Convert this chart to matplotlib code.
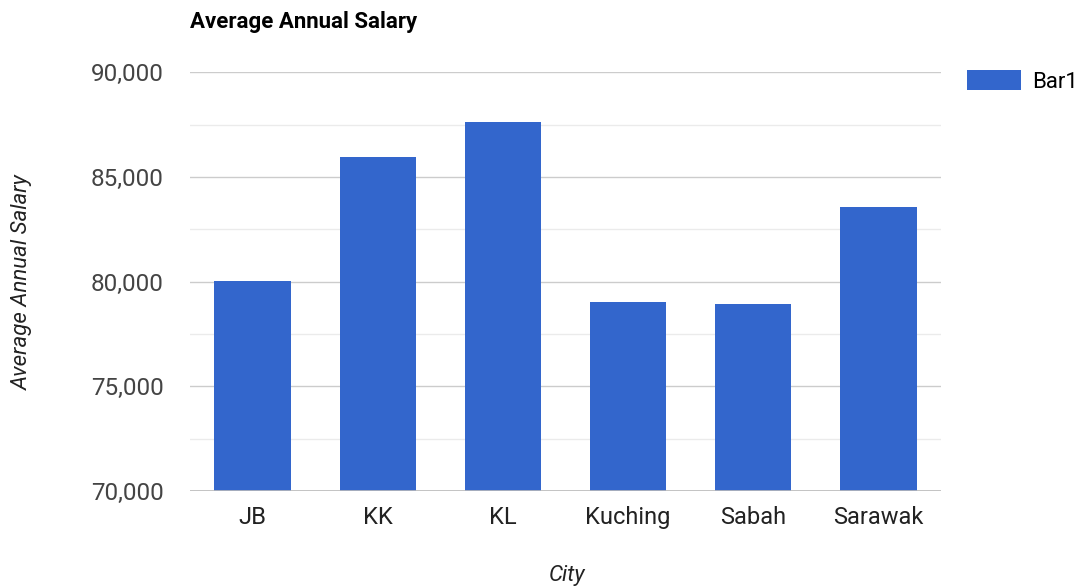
import numpy as np
import matplotlib.pyplot as plt
from matplotlib.ticker import FuncFormatter, MultipleLocator

cities = ["JB", "KK", "KL", "Kuching", "Sabah", "Sarawak"]
salary = [80020, 85930, 87610, 79010, 78930, 83540]

plt.rcParams['font.family'] = ['Roboto', 'DejaVu Sans']

fig = plt.figure(figsize=(10.86, 5.87), dpi=100)
ax = fig.add_axes([0.175, 0.1635, 0.6915, 0.7135])

x = np.arange(len(cities))
ax.bar(x, salary, width=0.61, color="#3366cc", label="Bar1", zorder=3)

ax.set_ylim(70000, 90000)
ax.set_xlim(-0.5, len(cities) - 0.5)
ax.yaxis.set_major_locator(MultipleLocator(5000))
ax.yaxis.set_minor_locator(MultipleLocator(2500))
ax.yaxis.set_major_formatter(FuncFormatter(lambda v, p: f"{int(v):,}"))
ax.grid(axis="y", which="major", color="#cccccc", linewidth=1, zorder=0)
ax.grid(axis="y", which="minor", color="#ebebeb", linewidth=1, zorder=0)
ax.axhline(70000, color="#bbbbbb", linewidth=1.2, zorder=4)

ax.set_xticks(x)
ax.set_xticklabels(cities)
ax.tick_params(axis="both", which="both", length=0)
ax.tick_params(axis="y", labelsize=17.5, labelcolor="#444444", pad=19)
ax.tick_params(axis="x", labelsize=17, labelcolor="#222222", pad=11)
for s in ax.spines.values():
    s.set_visible(False)

fig.text(0.175, 0.962, "Average Annual Salary", fontsize=16, fontweight="bold",
         color="#000000", va="center", ha="left")
fig.text(0.021, 0.52, "Average Annual Salary", fontsize=16, style="italic",
         color="#222222", rotation=90, va="center", ha="center")
fig.text(0.522, 0.02, "City", fontsize=16, style="italic",
         color="#222222", va="center", ha="center")

ax.legend(loc="upper left", bbox_to_anchor=(1.035, 1.005), frameon=False,
          fontsize=16, handlelength=2.4, handleheight=1.0, handletextpad=0.5,
          borderpad=0, borderaxespad=0)

plt.savefig("out.png", dpi=100)
